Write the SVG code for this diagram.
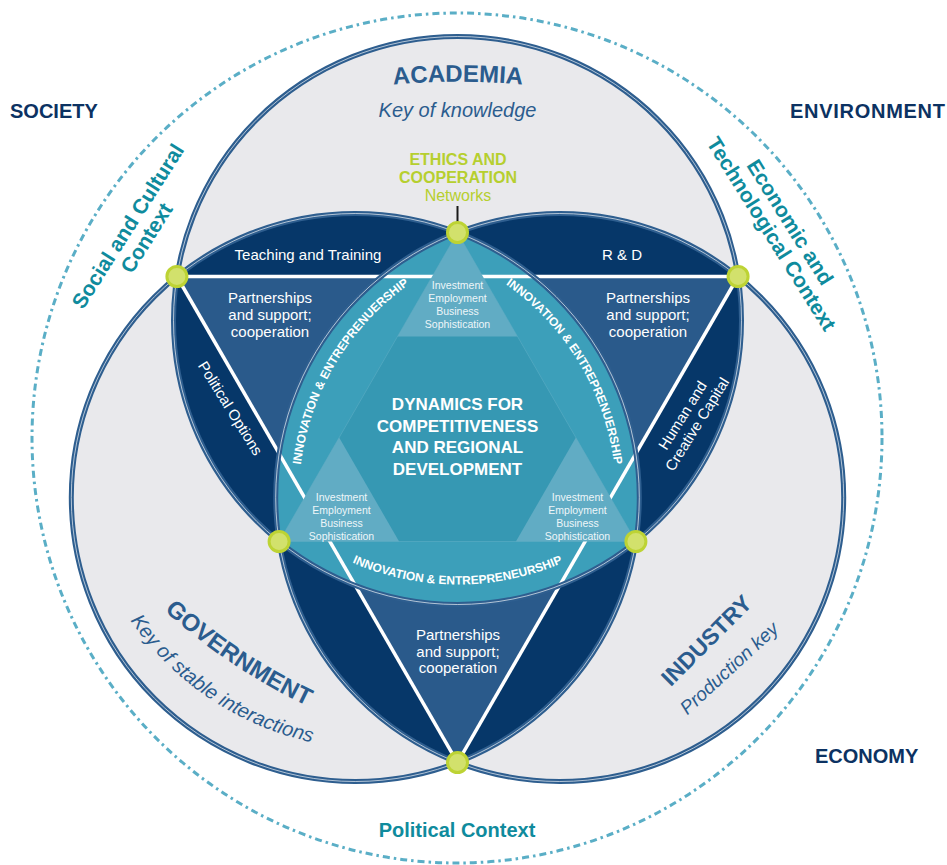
<svg xmlns="http://www.w3.org/2000/svg" width="947" height="865" viewBox="0 0 947 865">
<defs>
<style>
text{font-family:"Liberation Sans",Arial,sans-serif;}
.dark{fill:#0c3262;font-weight:bold;font-size:20px;}
.sect{fill:#2b5c8e;}
.ctx{fill:#0f8b9d;font-weight:bold;font-size:21px;text-anchor:middle;}
.lime{fill:#b6cf2f;text-anchor:middle;}
.w15{fill:#ffffff;font-size:15px;text-anchor:middle;}
.small{fill:#eef6f9;font-size:10.5px;text-anchor:middle;}
.inn{fill:#ffffff;font-weight:bold;font-size:12px;}
.big{fill:#ffffff;font-weight:bold;font-size:17px;text-anchor:middle;}
.ring{fill:none;stroke:#2e5e8f;stroke-width:5;}
.ringw{fill:none;stroke:#ffffff;stroke-width:0.8;stroke-opacity:0.8;}
.dot{fill:#d2e16c;stroke:#bdd334;stroke-width:3;}
.wl{stroke:#ffffff;stroke-width:3.5;fill:none;}
.navy{fill:#063769;}
.corner{fill:#61acc4;}
</style>
<clipPath id="cA"><circle cx="457.5" cy="320.5" r="284"/></clipPath>
<clipPath id="cB"><circle cx="355.3" cy="497.5" r="284"/></clipPath>
<clipPath id="cC"><circle cx="559.7" cy="497.5" r="284"/></clipPath>
<path id="pAcad" d="M357,89 A700,700 0 0 1 559,89"/>
<path id="pGov" d="M144.5,592 A600,600 0 0 0 332,717.2"/>
<path id="pKey" d="M116.9,599.4 A300,300 0 0 0 336.5,746.7"/>
<path id="pInnL" d="M298.7,499.8 A261,261 0 0 1 439.2,266"/>
<path id="pInnR" d="M475.8,266 A261,261 0 0 1 616.3,499.8"/>
<path id="pInnB" d="M317.6,544.4 A264,264 0 0 0 597.4,544.4"/>
</defs>

<g id="context-ring">
<circle cx="457" cy="438" r="425" fill="none" stroke="#5aaec6" stroke-width="3" stroke-dasharray="7 4 2.5 4"/>
</g>

<g id="circles-fill">
<circle id="academia-circle" cx="457.5" cy="320.5" r="284" fill="#e9e9ec"/>
<circle id="government-circle" cx="355.3" cy="497.5" r="284" fill="#e9e9ec"/>
<circle id="industry-circle" cx="559.7" cy="497.5" r="284" fill="#e9e9ec"/>
</g>

<g id="lenses">
<g clip-path="url(#cB)"><circle class="navy" cx="457.5" cy="320.5" r="284"/></g>
<g clip-path="url(#cC)"><circle class="navy" cx="457.5" cy="320.5" r="284"/></g>
<g clip-path="url(#cC)"><circle class="navy" cx="355.3" cy="497.5" r="284"/></g>
</g>

<g id="partnership-triangle">
<polygon points="176.9,276.5 738.1,276.5 457.5,762.5" fill="#2a5a8b"/>
</g>

<g id="center">
<g clip-path="url(#cA)"><g clip-path="url(#cB)"><circle cx="559.7" cy="497.5" r="284" fill="#3c9fba"/></g></g>
<polygon points="457.5,232.5 279.1,541.5 635.9,541.5" fill="#3698b3" stroke="#4ea6bf" stroke-width="1"/>
</g>

<g id="connectors">
<line class="wl" x1="176.9" y1="276.5" x2="738.1" y2="276.5"/>
<line class="wl" x1="176.9" y1="276.5" x2="457.5" y2="762.5"/>
<line class="wl" x1="738.1" y1="276.5" x2="457.5" y2="762.5"/>
<line x1="457.5" y1="206" x2="457.5" y2="224" stroke="#1a1a1a" stroke-width="2"/>
</g>

<g id="corner-triangles">
<polygon class="corner" points="457.5,232.5 397.5,336.4 517.5,336.4"/>
<polygon class="corner" points="279.1,541.5 399.1,541.5 339.1,437.6"/>
<polygon class="corner" points="635.9,541.5 515.9,541.5 575.9,437.6"/>
</g>

<g id="rings">
<circle class="ring" cx="457.5" cy="320.5" r="284"/>
<circle class="ring" cx="355.3" cy="497.5" r="284"/>
<circle class="ring" cx="559.7" cy="497.5" r="284"/>
<circle class="ringw" cx="457.5" cy="320.5" r="284"/>
<circle class="ringw" cx="355.3" cy="497.5" r="284"/>
<circle class="ringw" cx="559.7" cy="497.5" r="284"/>
</g>

<g id="nodes">
<circle class="dot" cx="457.5" cy="232.5" r="10"/>
<circle class="dot" cx="176.9" cy="276.5" r="10"/>
<circle class="dot" cx="738.1" cy="276.5" r="10"/>
<circle class="dot" cx="279.1" cy="541.5" r="10"/>
<circle class="dot" cx="635.9" cy="541.5" r="10"/>
<circle class="dot" cx="457.5" cy="762.5" r="10"/>
</g>

<g id="outer-labels">
<text class="dark" x="10" y="118">SOCIETY</text>
<text class="dark" x="790" y="118" textLength="155" lengthAdjust="spacing">ENVIRONMENT</text>
<text class="dark" x="815" y="763">ECONOMY</text>
<text class="ctx" transform="translate(134,230) rotate(-57.6)"><tspan x="0" y="0">Social and Cultural</tspan><tspan x="0" y="22">Context</tspan></text>
<text class="ctx" transform="translate(784,226) rotate(58)"><tspan x="0" y="0">Economic and</tspan><tspan x="0" y="22">Technological Context</tspan></text>
<text class="ctx" x="457" y="837" style="font-size:20px">Political Context</text>
</g>

<g id="academia">
<text class="sect" style="font-size:24px;font-weight:bold"><textPath href="#pAcad" startOffset="50%" text-anchor="middle">ACADEMIA</textPath></text>
<text class="sect" x="457.5" y="117" text-anchor="middle" style="font-size:20px;font-style:italic">Key of knowledge</text>
<text class="w15" x="308" y="260">Teaching and Training</text>
<text class="w15" x="622" y="260">R &amp; D</text>
</g>

<g id="ethics">
<text class="lime" x="458" y="165" style="font-size:16px;font-weight:bold">ETHICS AND</text>
<text class="lime" x="458" y="183" style="font-size:16px;font-weight:bold">COOPERATION</text>
<text class="lime" x="458" y="201" style="font-size:16px">Networks</text>
</g>

<g id="government">
<text class="sect" style="font-size:24px;font-weight:bold"><textPath href="#pGov" startOffset="50%" text-anchor="middle">GOVERNMENT</textPath></text>
<text class="sect" style="font-size:20px;font-style:italic"><textPath href="#pKey" startOffset="50%" text-anchor="middle">Key of stable interactions</textPath></text>
<text class="w15" transform="translate(226,411) rotate(58)" x="0" y="0">Political Options</text>
</g>

<g id="industry">
<text class="sect" transform="translate(712,646) rotate(-45)" x="0" y="0" text-anchor="middle" style="font-size:23px;font-weight:bold">INDUSTRY</text>
<text class="sect" transform="translate(733.5,673) rotate(-42.7)" x="0" y="0" text-anchor="middle" style="font-size:19px;font-style:italic">Production key</text>
<text class="w15" transform="translate(687,418) rotate(-58)"><tspan x="0" y="0">Human and</tspan><tspan x="0" y="17">Creative Capital</tspan></text>
</g>

<g id="partnerships">
<text class="w15"><tspan x="270" y="303">Partnerships</tspan><tspan x="270" y="320">and support;</tspan><tspan x="270" y="337">cooperation</tspan></text>
<text class="w15"><tspan x="648" y="303">Partnerships</tspan><tspan x="648" y="320">and support;</tspan><tspan x="648" y="337">cooperation</tspan></text>
<text class="w15"><tspan x="458" y="640">Partnerships</tspan><tspan x="458" y="657">and support;</tspan><tspan x="458" y="673">cooperation</tspan></text>
</g>

<g id="innovation">
<text class="inn"><textPath href="#pInnL" startOffset="50%" text-anchor="middle">INNOVATION &amp; ENTREPRENUERSHIP</textPath></text>
<text class="inn"><textPath href="#pInnR" startOffset="50%" text-anchor="middle">INNOVATION &amp; ENTREPRENUERSHIP</textPath></text>
<text class="inn"><textPath href="#pInnB" startOffset="50%" text-anchor="middle">INNOVATION &amp; ENTREPRENEURSHIP</textPath></text>
</g>

<g id="factors">
<text class="small"><tspan x="457.5" y="289">Investment</tspan><tspan x="457.5" y="302">Employment</tspan><tspan x="457.5" y="315">Business</tspan><tspan x="457.5" y="328">Sophistication</tspan></text>
<text class="small"><tspan x="341.5" y="501">Investment</tspan><tspan x="341.5" y="514">Employment</tspan><tspan x="341.5" y="527">Business</tspan><tspan x="341.5" y="540">Sophistication</tspan></text>
<text class="small"><tspan x="577.5" y="501">Investment</tspan><tspan x="577.5" y="514">Employment</tspan><tspan x="577.5" y="527">Business</tspan><tspan x="577.5" y="540">Sophistication</tspan></text>
</g>

<g id="dynamics">
<text class="big"><tspan x="457.5" y="410">DYNAMICS FOR</tspan><tspan x="457.5" y="431.5">COMPETITIVENESS</tspan><tspan x="457.5" y="453">AND REGIONAL</tspan><tspan x="457.5" y="474.5">DEVELOPMENT</tspan></text>
</g>
</svg>
